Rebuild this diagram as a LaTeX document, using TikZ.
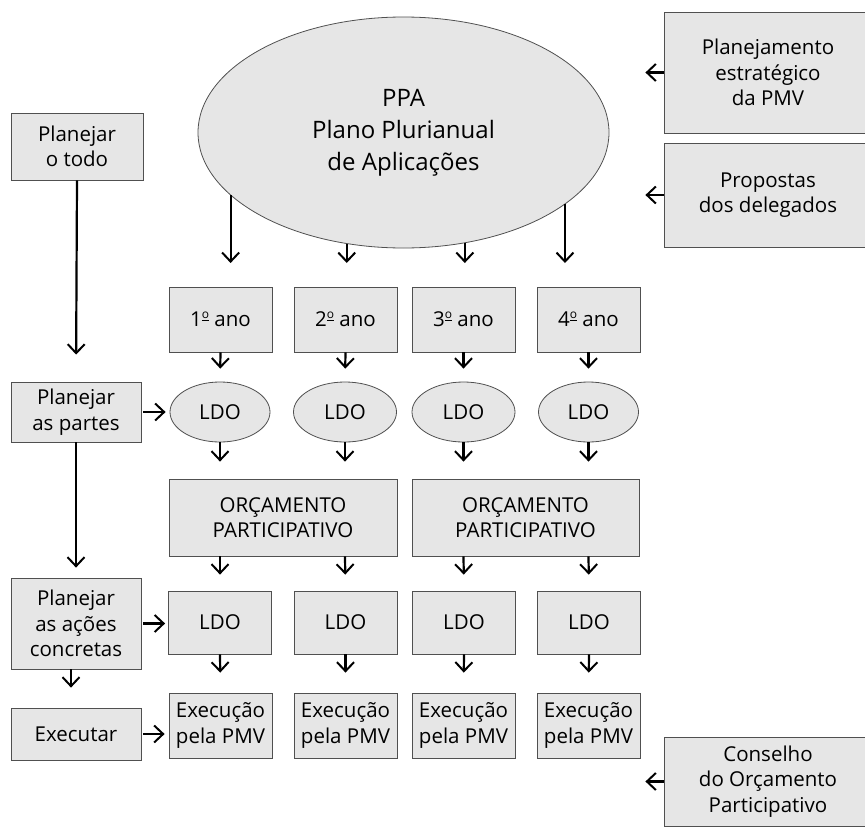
\documentclass[tikz,border=0pt]{standalone}
\usepackage{fontspec}
\setmainfont{Open Sans}
\usetikzlibrary{shapes.geometric,arrows.meta}
\definecolor{boxgray}{HTML}{E6E6E6}
\definecolor{bordergray}{HTML}{505050}
\newcommand\ordo{{\setbox0\hbox{\fontsize{12}{12}\selectfont o}\raisebox{0.3em}{\vbox{\copy0\kern1pt\hrule width\wd0 height 0.9pt}}}}
\tikzset{
  base/.style={draw=bordergray, fill=boxgray, line width=0.8pt, inner sep=0pt, align=center,
    font=\fontsize{20.5}{25.5}\selectfont},
  box/.style={base, rectangle},
  ell/.style={base, ellipse},
  arr/.style={line width=2.2pt, -{Straight Barb[length=9pt,width=17pt,line width=2pt]}},
}
\begin{document}
\begin{tikzpicture}[x=1pt,y=-1pt]
\useasboundingbox (0,0) rectangle (865,835);
% PPA ellipse
\node[ell, minimum width=411pt, minimum height=231pt, font=\fontsize{24}{32}\selectfont]
  (ppa) at (403.5,132.5) {PPA\\Plano Plurianual\\de Aplicações};
% right column
\node[box, minimum width=208pt, minimum height=121pt] (pe) at (768,72.5) {Planejamento\\estratégico\\da PMV};
\node[box, minimum width=208pt, minimum height=104pt] (pd) at (768,195) {Propostas\\dos delegados};
\node[box, minimum width=208pt, minimum height=89pt] (co) at (768,781.5) {Conselho\\do Orçamento\\Participativo};
% left column
\node[box, minimum width=132pt, minimum height=67pt] (pt) at (77,146.5) {Planejar\\o todo};
\node[box, minimum width=130pt, minimum height=60pt] (pp) at (76,412) {Planejar\\as partes};
\node[box, minimum width=130pt, minimum height=91pt] (ac) at (76,623.5) {Planejar\\as ações\\concretas};
\node[box, minimum width=130pt, minimum height=52pt] (ex) at (76,734) {Executar};
% year boxes
\node[box, minimum width=103pt, minimum height=65pt] (y1) at (220.5,319.5) {1\ordo\ ano};
\node[box, minimum width=103pt, minimum height=65pt] (y2) at (345.5,319.5) {2\ordo\ ano};
\node[box, minimum width=103pt, minimum height=65pt] (y3) at (463.5,319.5) {3\ordo\ ano};
\node[box, minimum width=103pt, minimum height=65pt] (y4) at (588.5,319.5) {4\ordo\ ano};
% LDO ellipses
\node[ell, minimum width=100pt, minimum height=60pt] (l1) at (220,412) {LDO};
\node[ell, minimum width=103pt, minimum height=60pt] (l2) at (345,412) {LDO};
\node[ell, minimum width=103pt, minimum height=60pt] (l3) at (463.5,412) {LDO};
\node[ell, minimum width=100pt, minimum height=60pt] (l4) at (588.5,412) {LDO};
% OR boxes
\node[box, minimum width=228pt, minimum height=77pt] (o1) at (283,517.5) {ORÇAMENTO\\PARTICIPATIVO};
\node[box, minimum width=227pt, minimum height=77pt] (o2) at (525.5,517.5) {ORÇAMENTO\\PARTICIPATIVO};
% LDO boxes
\node[box, minimum width=103pt, minimum height=63pt] (d1) at (220,622.5) {LDO};
\node[box, minimum width=103pt, minimum height=63pt] (d2) at (345.5,622.5) {LDO};
\node[box, minimum width=103pt, minimum height=63pt] (d3) at (464,622.5) {LDO};
\node[box, minimum width=103pt, minimum height=63pt] (d4) at (589,622.5) {LDO};
% Execucao boxes
\node[box, minimum width=103pt, minimum height=65pt] (e1) at (220.5,725.5) {Execução\\pela PMV};
\node[box, minimum width=103pt, minimum height=65pt] (e2) at (345.5,725.5) {Execução\\pela PMV};
\node[box, minimum width=103pt, minimum height=65pt] (e3) at (463.5,725.5) {Execução\\pela PMV};
\node[box, minimum width=103pt, minimum height=65pt] (e4) at (588.5,725.5) {Execução\\pela PMV};
% arrows from PPA
\coordinate (t) at (0,263);
\draw[arr] (ppa.200) -- (ppa.200 |- t);
\draw[arr] (ppa.243.5) -- (ppa.243.5 |- t);
\draw[arr] (ppa.299.2) -- (ppa.299.2 |- t);
\draw[arr] (ppa.336.8) -- (ppa.336.8 |- t);
% right arrows
\draw[arr, shorten >=36pt] (pe.west) -- (pe.west -| ppa.east);
\draw[arr, shorten >=36pt] (pd.west) -- (pd.west -| ppa.east);
\draw[arr, shorten >=36pt] (co.west) -- (co.west -| ppa.east);
% left column arrows
\draw[arr, shorten >=27pt] (pt.south) -- (pp.north);
\draw[arr, shorten >=10pt] (pp.south) -- (ac.north);
\draw[arr, shorten >=20pt] ([xshift=-5pt]ac.south) -- ([xshift=-5pt]ac.south |- ex.north);
\draw[arr, shorten <=2pt, shorten >=4pt] (pp.east) -- (l1.west);
\draw[arr, shorten <=2pt, shorten >=3pt] (ac.east) -- (ac.east -| d1.west);
\draw[arr, shorten <=2pt, shorten >=4pt] (ex.east) -- (ex.east -| e1.west);
% grid arrows
\foreach \i in {1,2,3,4}{
  \draw[arr, shorten >=13pt] (y\i.south) -- (l\i.north);
  \draw[arr, shorten >=20pt] (d\i.south) -- (e\i.north);
}
\draw[arr, shorten >=17pt] (l1.south) -- (l1.south |- o1.north);
\draw[arr, shorten >=17pt] (l2.south) -- (l2.south |- o1.north);
\draw[arr, shorten >=17pt] (l3.south) -- (l3.south |- o2.north);
\draw[arr, shorten >=17pt] (l4.south) -- (l4.south |- o2.north);
\draw[arr, shorten >=16pt] (l1.south |- o1.south) -- (d1.north);
\draw[arr, shorten >=16pt] (l2.south |- o1.south) -- (d2.north);
\draw[arr, shorten >=16pt] (l3.south |- o2.south) -- (d3.north);
\draw[arr, shorten >=16pt] (l4.south |- o2.south) -- (d4.north);
\end{tikzpicture}
\end{document}
